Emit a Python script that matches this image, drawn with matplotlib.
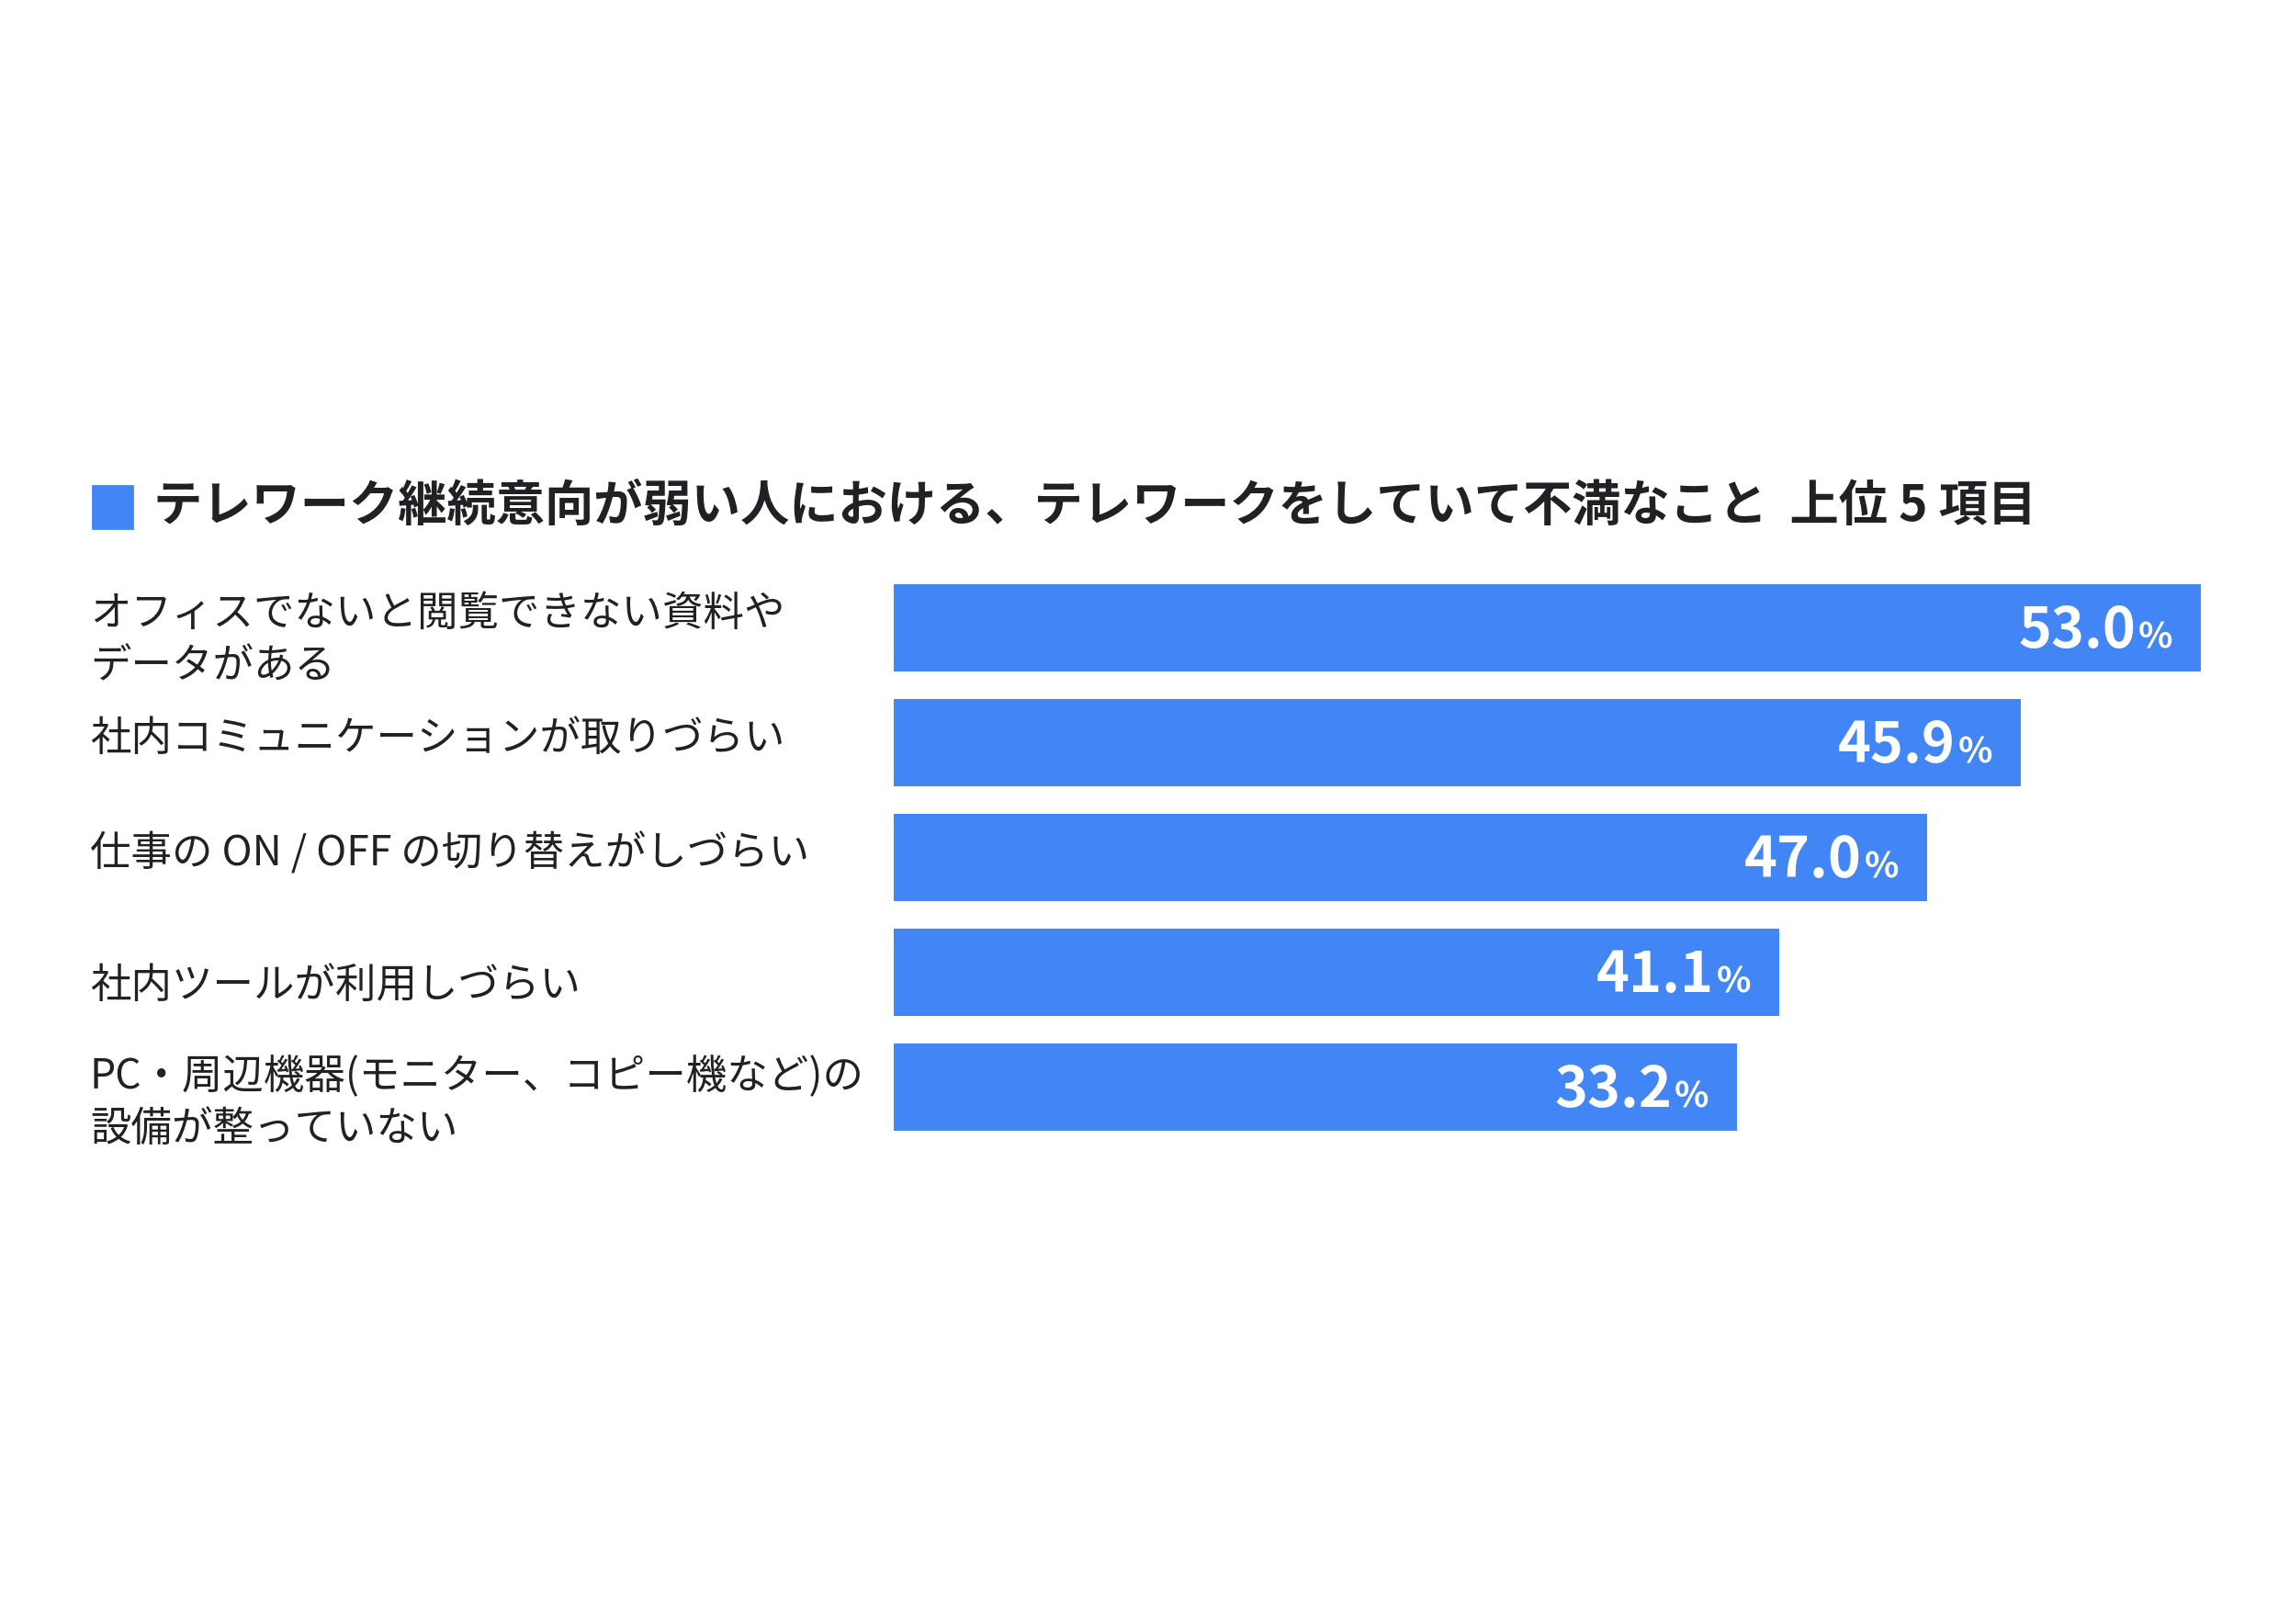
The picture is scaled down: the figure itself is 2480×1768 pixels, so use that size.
import matplotlib
matplotlib.use("Agg")
import matplotlib.pyplot as plt
from matplotlib.patches import Rectangle

plt.rcParams['font.family'] = ['Noto Sans CJK JP', 'DejaVu Sans']

# données
categories = [
    "オフィスでないと閲覧できない資料や\nデータがある",
    "社内コミュニケーションが取りづらい",
    "仕事の ON / OFF の切り替えがしづらい",
    "社内ツールが利用しづらい",
    "PC・周辺機器(モニター、コピー機など)の\n設備が整っていない",
]
valeurs = [53.0, 45.9, 47.0, 41.1, 33.2]
# longueurs des barres telles que dessinées dans l'original (pas proportionnelles aux valeurs)
longueurs = [53.0, 45.7, 41.9, 35.9, 34.2]
titre = "テレワーク継続意向が弱い人における、テレワークをしていて不満なこと  上位 5 項目"

bleu = "#4285F4"
noir = "#202124"
W, H, DPI = 2480, 1768, 200

fig = plt.figure(figsize=(W / DPI, H / DPI), dpi=DPI)
fig.patch.set_facecolor("white")

# axes placés en pixels : x de 973 à 2396, y de 620 à 1245
ax = fig.add_axes([973 / W, 1 - 1245.5 / H, 1423 / W, 625 / H])
ax.set_xlim(0, longueurs[0])
ax.set_ylim(len(categories) - 0.5, -0.5)
ax.axis("off")

pos = list(range(len(categories)))
ax.barh(pos, longueurs, height=0.76, color=bleu)

# étiquettes des catégories à gauche (x en coordonnées axes)
x_lab = (98 / W - 973 / W) / (1423 / W)
decalages = [0.11, -0.03, -0.03, 0.12, 0.14]
for i, cat in enumerate(categories):
    ax.text(x_lab, i + decalages[i], cat, transform=ax.get_yaxis_transform(),
            fontsize=16, color=noir, ha="left", va="center", linespacing=1.3)

# valeurs dans les barres, avec un % plus petit
pad = 11
taille = 22
hauteur_cap = 0.72 * taille
pourcents = []
for i, v in enumerate(valeurs):
    p = ax.annotate("%", xy=(longueurs[i], i), xytext=(-pad, -hauteur_cap / 2),
                    textcoords="offset points", ha="right", va="baseline",
                    fontsize=14, fontweight="bold", color="white")
    pourcents.append(p)
fig.canvas.draw()
r = fig.canvas.get_renderer()
for i, v in enumerate(valeurs):
    w = pourcents[i].get_window_extent(r).width * 72 / DPI
    ax.annotate(f"{v:.1f}", xy=(longueurs[i], i), xytext=(-pad - w - 1, -hauteur_cap / 2),
                textcoords="offset points", ha="right", va="baseline",
                fontsize=taille, fontweight="bold", color="white")

# titre avec carré bleu
fig.patches.append(Rectangle((101 / W, 1 - 575 / H), 43 / W, 46 / H,
                             transform=fig.transFigure, color=bleu))
fig.text(167 / W, 1 - 551 / H, titre, fontsize=19.2, fontweight="bold",
         color=noir, ha="left", va="center")

fig.savefig("out.png", dpi=DPI, facecolor="white")
